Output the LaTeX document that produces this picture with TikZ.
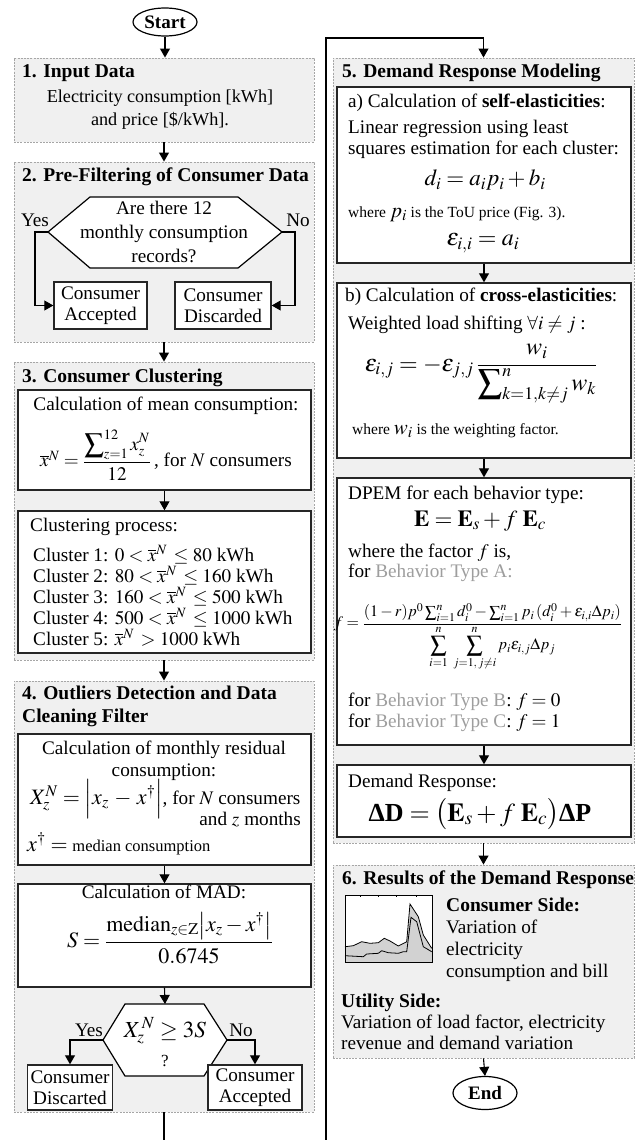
\documentclass[tikz,border=0pt]{standalone}
\usepackage{amsmath}
\usepackage{mathptmx}
\usepackage[no-math]{fontspec}
\setmainfont{Liberation Serif}
\usepackage{xcolor}
\usetikzlibrary{arrows.meta,shapes.geometric}

\begin{document}
\begin{tikzpicture}[x=1pt,y=-1pt,
  every node/.style={inner sep=0pt,font=\fontsize{19.2}{22}\selectfont},
  ln/.style={text height=13pt,text depth=4pt},
  lnl/.style={ln,anchor=west},
  head/.style={lnl,font=\fontsize{19.5}{22}\selectfont\bfseries},
  note/.style={lnl,font=\fontsize{15.5}{18}\selectfont},
  stage/.style={draw=gray!70,fill=gray!12,line width=0.9pt,dash pattern=on 2pt off 1.2pt},
  task/.style={draw=black!85,fill=white,line width=1.4pt},
  term/.style={ellipse,draw,fill=white,line width=1.2pt,font=\fontsize{19}{22}\selectfont\bfseries},
  dec/.style={draw,fill=white,line width=1.2pt},
  flow/.style={line width=1.1pt,-{Triangle[length=9pt,width=10pt]}},
  soft/.style={text=black!38}]
  \useasboundingbox (0,0) rectangle (640,1140);

  \node[term,minimum width=64,minimum height=28] (start) at (165,22) {Start};

  \node[stage,minimum width=300,minimum height=84] (s1) at (164,100) {};
  \node[head] (h1) at (22,73) {1. Input Data};
  \node[ln,font=\fontsize{18.2}{22}\selectfont] (i1) at (160,98) {Electricity consumption [kWh]};
  \node[ln,font=\fontsize{18.2}{22}\selectfont] (i2) at (160,121) {and price [\$/kWh].};

  \node[stage,minimum width=300,minimum height=180] (s2) at (164,252) {};
  \node[head] (h2) at (22,177) {2. Pre-Filtering of Consumer Data};
  \coordinate (q1w) at (48,232);
  \coordinate (q1e) at (282,232);
  \draw[dec] (q1w) -- (90,197) -- (238,197) -- (q1e) -- (238,268) -- (90,268) -- cycle;
  \node[align=center,font=\fontsize{19.2}{24}\selectfont] (q1) at (164,232) {Are there 12\\monthly consumption\\records?};
  \node[ln] (yes1) at (35,222) {Yes};
  \node[ln] (no1) at (298,222) {No};
  \node[task,align=center,minimum width=93,minimum height=47,font=\fontsize{19.2}{21}\selectfont] (acc1) at (100.5,305.5) {Consumer\\Accepted};
  \node[task,align=center,minimum width=96,minimum height=47,font=\fontsize{19.2}{21}\selectfont] (dis1) at (223,305.5) {Consumer\\Discarded};

  \node[stage,minimum width=300,minimum height=298] (s3) at (164,511) {};
  \node[head] (h3) at (22,378) {3. Consumer Clustering};
  \node[task,minimum width=293,minimum height=100] (s3a) at (164.5,440) {};
  \node[ln] (m1) at (166,406) {Calculation of mean consumption:};
  \node (m2) at (166,455) {$\overline{x}^{N}=\dfrac{\displaystyle\sum\nolimits_{z=1}^{12}x_z^N}{12}$\,, for $N$ consumers};
  \node[task,minimum width=293,minimum height=142] (s3b) at (164.5,582) {};
  \node[lnl] (c0) at (30,527) {Clustering process:};
  \node[lnl] (c1) at (33,557) {Cluster 1: $0<\overline{x}^{N}\,\le 80$ kWh};
  \node[lnl] (c2) at (33,578) {Cluster 2: $80<\overline{x}^{N}\,\le 160$ kWh};
  \node[lnl] (c3) at (33,599) {Cluster 3: $160<\overline{x}^{N}\,\le 500$ kWh};
  \node[lnl] (c4) at (33,620) {Cluster 4: $500<\overline{x}^{N}\,\le 1000$ kWh};
  \node[lnl] (c5) at (33,641) {Cluster 5: $\overline{x}^{N}\,>1000$ kWh};

  \node[stage,minimum width=300,minimum height=431] (s4) at (164,896.5) {};
  \node[head] (h4a) at (22,695) {4. Outliers Detection and Data};
  \node[head] (h4b) at (22,718) {Cleaning Filter};
  \node[task,minimum width=293,minimum height=131] (s4a) at (164.5,799.5) {};
  \node[ln] (r1) at (164,750) {Calculation of monthly residual};
  \node[ln] (r2) at (164,772) {consumption:};
  \node[lnl] (r3) at (30,800) {{\fontsize{22}{22}\selectfont$X_z^N=\Bigl|x_z\,-\,x^{\dagger}\Bigr|$}, for $N$ consumers};
  \node[ln,anchor=east] (r4) at (301,821) {and $z$ months};
  \node[lnl] (r5) at (27,847) {{\fontsize{22}{22}\selectfont$x^{\dagger}=$} {\fontsize{16.5}{19}\selectfont median consumption}};
  \node[task,minimum width=293,minimum height=103] (s4b) at (164.5,935.5) {};
  \node[ln] (d1) at (164,894) {Calculation of MAD:};
  \node[font=\fontsize{22}{24}\selectfont] (d2) at (170,938) {$S=\dfrac{\mathrm{median}_{z\in\mathrm{Z}}\bigl|x_z-x^{\dagger}\bigr|}{0.6745}$};
  \coordinate (q2w) at (103,1040);
  \coordinate (q2e) at (227,1040);
  \coordinate (q2n) at (165,1004);
  \draw[dec] (q2w) -- (125,1004) -- (204,1004) -- (q2e) -- (204,1076) -- (125,1076) -- cycle;
  \node[font=\fontsize{23}{24}\selectfont] (q2) at (165,1031) {$X_z^{\,N}\ge 3S$};
  \node[ln,font=\fontsize{17}{19}\selectfont] (q2b) at (165,1062) {?};
  \node[ln] (yes2) at (89,1032) {Yes};
  \node[ln] (no2) at (241,1032) {No};
  \node[task,align=center,minimum width=85,minimum height=45,font=\fontsize{19.2}{21}\selectfont] (dis2) at (70,1087.5) {Consumer\\Discarted};
  \node[task,align=center,minimum width=94,minimum height=45,font=\fontsize{19.2}{21}\selectfont] (acc2) at (255,1087.5) {Consumer\\Accepted};

  \node[stage,minimum width=301,minimum height=785] (s5) at (483.5,450.5) {};
  \node[head] (h5) at (342,73) {5. Demand Response Modeling};
  \node[task,minimum width=294,minimum height=176] (s5a) at (484,175) {};
  \node[lnl] (a1) at (348,103) {a) Calculation of \textbf{self-elasticities}:};
  \node[lnl] (a2) at (348,129) {Linear regression using least};
  \node[lnl] (a3) at (348,150) {squares estimation for each cluster:};
  \node[font=\fontsize{23}{24}\selectfont] (a4) at (485,180) {$d_i=a_ip_i+b_i$};
  \node[note] (a5) at (348,213) {where {\fontsize{21}{22}\selectfont$p_i$} is the ToU price (Fig. 3).};
  \node[font=\fontsize{24}{24}\selectfont] (a6) at (483,243) {$\varepsilon_{i,i}=a_i$};
  \node[task,minimum width=294,minimum height=175] (s5b) at (484,370.5) {};
  \node[lnl] (b1) at (345,297) {b) Calculation of \textbf{cross-elasticities}:};
  \node[lnl] (b2) at (348,325) {Weighted load shifting $\forall i\neq j$ :};
  \node[font=\fontsize{24}{24}\selectfont] (b3) at (481,374) {$\varepsilon_{i,j}=-\varepsilon_{j,j}\,\dfrac{w_i}{\displaystyle\sum\nolimits_{k=1,k\neq j}^{n}w_k}$};
  \node[note] (b4) at (352,430) {where {\fontsize{21}{22}\selectfont$w_i$} is the weighting factor.};
  \node[task,minimum width=294,minimum height=267] (s5c) at (484,611.5) {};
  \node[lnl] (e1) at (348,495) {DPEM for each behavior type:};
  \node[font=\fontsize{23}{24}\selectfont] (e2) at (480,521) {$\mathbf{E}=\mathbf{E}_s+f\;\mathbf{E}_c$};
  \node[lnl] (e3) at (348,553) {where the factor $f$ is,};
  \node[lnl] (e4) at (348,573) {for \textcolor{black!38}{Behavior Type A:}};
  \node[font=\fontsize{16}{18}\selectfont] (e5) at (478,637) {$f=\dfrac{(1-r)p^0\sum\nolimits_{i=1}^{n}d_i^0-\sum\nolimits_{i=1}^{n}p_i\,(d_i^0+\varepsilon_{i,i}\Delta p_i)}{\displaystyle\sum_{i=1}^{n}\;\sum_{j=1,\,j\neq i}^{n}p_i\varepsilon_{i,j}\Delta p_j}$};
  \node[lnl] (e6) at (348,702) {for \textcolor{black!38}{Behavior Type B}: $f=0$};
  \node[lnl] (e7) at (348,723) {for \textcolor{black!38}{Behavior Type C}: $f=1$};
  \node[task,minimum width=294,minimum height=72] (s5d) at (484,801) {};
  \node[lnl] (g1) at (348,783) {Demand Response:};
  \node[font=\fontsize{26}{28}\selectfont,text height=18pt,text depth=6pt] (g2) at (480,815) {$\text{\bfseries ΔD}=\bigl(\mathbf{E}_s+f\;\mathbf{E}_c\bigr)\text{\bfseries ΔP}$};

  \node[stage,minimum width=301,minimum height=193] (s6) at (483.5,961.5) {};
  \node[head] (h6) at (342,880) {6. Results of the Demand Response};
  \draw[fill=white,line width=1pt] (345,895) rectangle (432,962);
  \fill[gray!35] (345,962) -- (345,946.7) -- (353.3,945.7) -- (361.7,941.7) -- (370,943.3) -- (378.3,942.7) -- (384.3,938.3) -- (390,941) -- (398.3,946) -- (406.7,941.7) -- (410,904) -- (418.3,916.7) -- (423.3,935) -- (431.7,948.3) -- (432,962) -- cycle;
  \draw[line width=0.8pt] (345,946.7) -- (353.3,945.7) -- (361.7,941.7) -- (370,943.3) -- (378.3,942.7) -- (384.3,938.3) -- (390,941) -- (398.3,946) -- (406.7,941.7) -- (410,904) -- (418.3,916.7) -- (423.3,935) -- (431.7,948.3);
  \draw[line width=0.8pt] (345,955.7) -- (363.3,956.7) -- (366.7,954) -- (378.3,953.3) -- (381.7,950.7) -- (388.3,952.7) -- (398.3,953.3) -- (403.3,951.7) -- (406.7,951.7) -- (411,917.3) -- (416.7,921.7) -- (423.3,946.7) -- (431.7,951.7);
  \foreach \t in {360,378.3,396.7,416.7}
    \draw[line width=0.5pt] (\t,895) -- (\t,897);
  \draw[line width=1pt] (345,895) rectangle (432,962);
  \node[head] (u1) at (446,907) {Consumer Side:};
  \node[lnl] (u2) at (446,929) {Variation of};
  \node[lnl] (u3) at (446,951) {electricity};
  \node[lnl] (u4) at (446,973) {consumption and bill};
  \node[head] (v1) at (341,1003) {Utility Side:};
  \node[lnl] (v2) at (341,1024) {Variation of load factor, electricity};
  \node[lnl] (v3) at (341,1045) {revenue and demand variation};

  \node[term,minimum width=64,minimum height=33] (stop) at (485,1093) {End};

  \draw[flow] (start.south) -- (start.south |- s1.north);
  \draw[flow] (s1.south) -- (s2.north);
  \draw[flow] (q1w) -- ++(-13,0) |- (acc1.west);
  \draw[flow] (q1e) -- ++(13,0) |- (dis1.east);
  \draw[flow] (s2.south) -- (s3.north);
  \draw[flow] (s3a.south) -- (s3b.north);
  \draw[flow] (s3.south) -- (s4.north);
  \draw[flow] (s4a.south) -- (s4b.north);
  \draw[flow] (s4b.south) -- (q2n);
  \draw[flow] (q2w) -| (dis2.north);
  \draw[flow] (q2e) -| (acc2.north);
  \coordinate (loopa) at (326,1150);
  \coordinate (loopb) at (326,38);
  \draw[flow] (s4.south) |- (loopa) -- (loopb) -| (s5.north);
  \draw[flow] (s5a.south) -- (s5b.north);
  \draw[flow] (s5b.south) -- (s5c.north);
  \draw[flow] (s5c.south) -- (s5d.north);
  \draw[flow] (s5.south) -- (s6.north);
  \draw[flow] (s6.south) -- (stop.north);
\end{tikzpicture}
\end{document}
